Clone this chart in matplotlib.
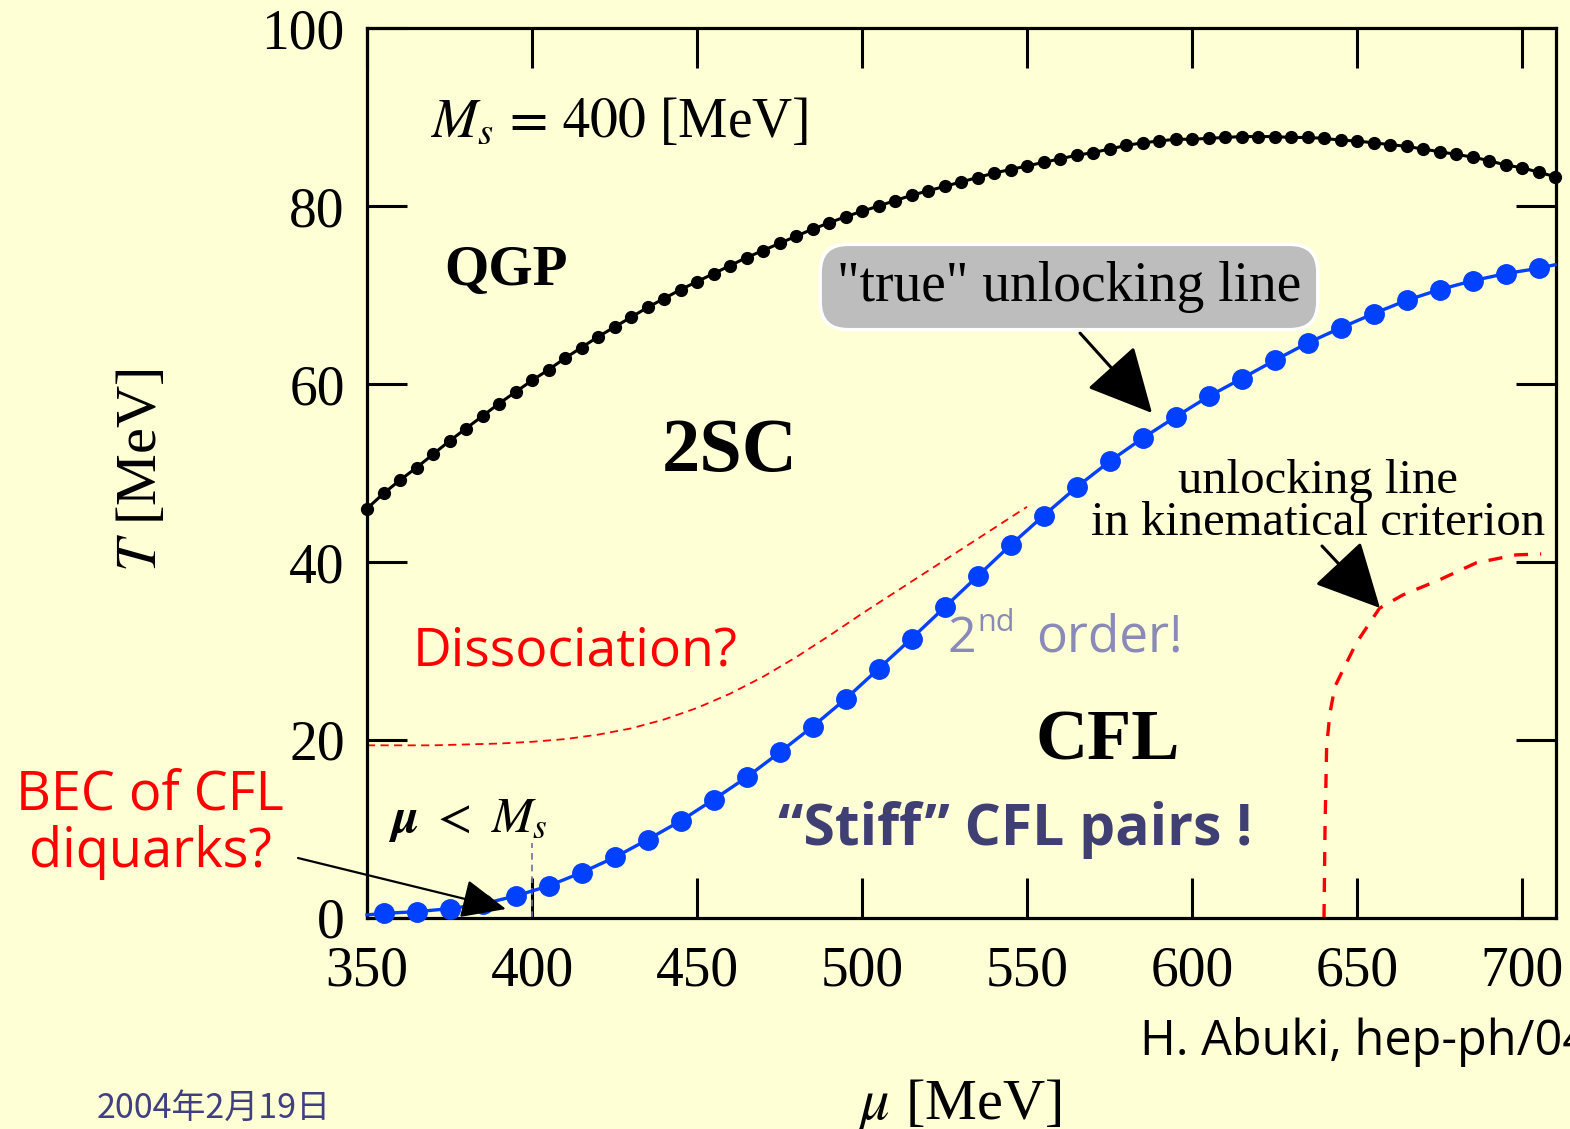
import matplotlib
matplotlib.use('Agg')
import matplotlib.pyplot as plt

plt.rcParams['font.family'] = ['Liberation Serif', 'DejaVu Serif']
plt.rcParams['mathtext.fontset'] = 'stix'

# ---------------- data ----------------
Ms = 400  # strange quark mass [MeV]

mu_qgp = [350, 355, 360, 365, 370, 375, 380, 385, 390, 395,
          400, 405, 410, 415, 420, 425, 430, 435, 440, 445,
          450, 455, 460, 465, 470, 475, 480, 485, 490, 495,
          500, 505, 510, 515, 520, 525, 530, 535, 540, 545,
          550, 555, 560, 565, 570, 575, 580, 585, 590, 595,
          600, 605, 610, 615, 620, 625, 630, 635, 640, 645,
          650, 655, 660, 665, 670, 675, 680, 685, 690, 695,
          700, 705, 710]
T_qgp = [46.0, 47.7, 49.2, 50.6, 52.1, 53.6, 55.0, 56.4, 57.8, 59.1,
         60.4, 61.6, 62.9, 64.1, 65.3, 66.4, 67.5, 68.6, 69.6, 70.6,
         71.5, 72.4, 73.3, 74.2, 75.0, 75.8, 76.6, 77.4, 78.1, 78.8,
         79.4, 80.0, 80.6, 81.2, 81.7, 82.2, 82.7, 83.2, 83.7, 84.1,
         84.5, 84.9, 85.3, 85.7, 86.0, 86.4, 86.8, 87.1, 87.3, 87.5,
         87.5, 87.6, 87.7, 87.8, 87.8, 87.8, 87.7, 87.7, 87.6, 87.4,
         87.3, 87.1, 86.9, 86.7, 86.4, 86.1, 85.8, 85.5, 85.1, 84.6,
         84.3, 83.8, 83.3]

# "true" unlocking line (first and last entries are the line ends at the frame)
mu_unlock = [350, 355, 365, 375, 385, 395, 405, 415, 425, 435, 445,
             455, 465, 475, 485, 495, 505, 515, 525, 535, 545,
             555, 565, 575, 585, 595, 605, 615, 625, 635, 645,
             655, 665, 675, 685, 695, 705, 710]
T_unlock = [0.35, 0.52, 0.71, 1.05, 1.57, 2.47, 3.6, 5.1, 6.8, 8.8, 10.9,
            13.3, 15.8, 18.6, 21.5, 24.6, 28.0, 31.4, 34.9, 38.4, 41.9,
            45.2, 48.4, 51.3, 53.9, 56.3, 58.6, 60.6, 62.65, 64.6, 66.3,
            67.9, 69.4, 70.6, 71.6, 72.4, 73.0, 73.4]

# dissociation line (thin red dashed)
mu_diss = [350, 360, 370, 380, 390, 400, 410, 420, 430, 440, 450,
           460, 470, 480, 490, 500, 510, 520, 530, 540, 550]
T_diss = [19.4, 19.4, 19.4, 19.5, 19.6, 19.8, 20.1, 20.6, 21.3, 22.3, 23.6,
          25.2, 27.1, 29.3, 31.7, 34.2, 36.6, 39.0, 41.4, 43.8, 46.2]

# unlocking line in kinematical criterion (thick red dashed)
mu_kin = [640.0, 640.3, 640.8, 641.8, 643.3, 645.8, 649.8, 656.8, 663.9,
          675.0, 686.1, 698.2, 705.8]
T_kin = [0.0, 9.9, 19.3, 23.0, 26.0, 27.9, 30.9, 34.8, 36.3,
         38.0, 39.9, 40.8, 40.9]

Ms_line_top = 8.4

xticks = [350, 400, 450, 500, 550, 600, 650, 700]
yticks = [0, 20, 40, 60, 80, 100]

# ---------------- figure ----------------
BG = '#FFFFD5'
W, H = 1570, 1129
fig = plt.figure(figsize=(W / 100, H / 100), dpi=100, facecolor=BG)


def P(x, y):
    return (x / W, 1 - y / H)


ax = fig.add_axes([367 / W, (H - 918) / H, 1189 / W, 890 / H])
ax.set_facecolor(BG)
ax.set_xlim(350, 710.3)
ax.set_ylim(0, 100)

for s in ax.spines.values():
    s.set_linewidth(2.3)
    s.set_color('black')

ax.set_xticks(xticks)
ax.set_yticks(yticks)
ax.tick_params(which='major', direction='in', length=29, width=2.2,
               top=True, right=True, labelsize=40, pad=16, colors='black')
ax.tick_params(axis='x', pad=20)

# curves
ax.plot(mu_diss, T_diss, color='#FF0000', lw=1.3, dashes=(4.5, 3), zorder=2)
ax.plot(mu_kin, T_kin, color='#FF0000', lw=2.4, dashes=(4.2, 3.6), zorder=2)
ax.plot([Ms, Ms], [0, Ms_line_top], color='#7070A0', lw=1.2, dashes=(4, 3), zorder=2)
ax.plot(mu_qgp, T_qgp, color='black', lw=2.2, marker='o', ms=8.5,
        clip_on=False, zorder=4)
ax.plot(mu_unlock, T_unlock, color='#0040FF', lw=2.4, marker='o', ms=14,
        markevery=slice(1, len(mu_unlock) - 1), clip_on=False, zorder=5)

# axis labels
fig.text(*P(142, 470), r'$T$ [MeV]', rotation=90, ha='center', va='center',
         fontsize=42)
fig.text(*P(960, 1105), r'$\mu$ [MeV]', ha='center', va='center', fontsize=42)

# annotations (serif)
fig.text(*P(430, 137), r'$M_s\,=\,%d$ [MeV]' % Ms, ha='left', va='baseline',
         fontsize=40)
fig.text(*P(506, 271), 'QGP', ha='center', va='center', fontsize=41,
         fontweight='bold')
fig.text(*P(730, 452), '2SC', ha='center', va='center', fontsize=55,
         fontweight='bold')
fig.text(*P(1108, 742), 'CFL', ha='center', va='center', fontsize=52,
         fontweight='bold')
fig.text(*P(1069, 287), '"true" unlocking line', ha='center', va='center',
         fontsize=40,
         bbox=dict(boxstyle='round,pad=0.3,rounding_size=0.5', fc='#BDBDBD',
                   ec='white', lw=2.5))
fig.text(*P(1318, 502), 'unlocking line\nin kinematical criterion',
         ha='center', va='center', fontsize=35, linespacing=0.95,
         multialignment='center')
fig.text(*P(388, 820), r'$\boldsymbol{\mu}\ <\ \boldsymbol{M_s}$', ha='left',
         va='center', fontsize=36)

# arrows
ax.annotate('', xy=P(1152, 413), xycoords='figure fraction',
            xytext=P(1080, 333), textcoords='figure fraction',
            arrowprops=dict(arrowstyle='-|>,head_length=0.9,head_width=0.45',
                            mutation_scale=45, lw=2.2, color='black',
                            shrinkA=0, shrinkB=0), zorder=6)
ax.annotate('', xy=P(1380, 608), xycoords='figure fraction',
            xytext=P(1322, 546), textcoords='figure fraction',
            arrowprops=dict(arrowstyle='-|>,head_length=0.9,head_width=0.45',
                            mutation_scale=45, lw=2.2, color='black',
                            shrinkA=0, shrinkB=0), zorder=6)
ax.annotate('', xy=P(506, 909), xycoords='figure fraction',
            xytext=P(298, 858), textcoords='figure fraction',
            arrowprops=dict(arrowstyle='-|>,head_length=0.8,head_width=0.35',
                            mutation_scale=35, lw=1.6, color='black',
                            shrinkA=0, shrinkB=0), zorder=6,
            annotation_clip=False)

# annotations (handwriting-like sans)
HF = ['Open Sans', 'DejaVu Sans']
fig.text(*P(413, 652), 'Dissociation?', ha='left', va='center', fontsize=38.5,
         color='#FF0000', family=HF)
fig.text(*P(150, 824), 'BEC of CFL\ndiquarks?', ha='center', va='center',
         fontsize=39, color='#FF0000', family=HF, linespacing=1.05,
         multialignment='center')
fig.text(*P(948, 652), '2', ha='left', va='baseline', fontsize=36,
         color='#8A8AB8', family=HF)
fig.text(*P(977, 631), 'nd', ha='left', va='baseline', fontsize=22,
         color='#8A8AB8', family=HF)
fig.text(*P(1036, 652), 'order!', ha='left', va='baseline', fontsize=37,
         color='#8A8AB8', family=HF)
fig.text(*P(778, 830), '\u201cStiff\u201d CFL pairs !', ha='left', va='center',
         fontsize=41, color='#3F3F74', family=HF, fontweight='bold')
fig.text(*P(1140, 1042), 'H. Abuki, hep-ph/040', ha='left', va='center',
         fontsize=35, color='black', family=HF)
fig.text(*P(97, 1108), '2004年2月19日', ha='left', va='center', fontsize=24.5,
         color='#404080', family=['Noto Sans CJK JP', 'DejaVu Sans'])

fig.savefig('out.png', dpi=100, facecolor=BG)
